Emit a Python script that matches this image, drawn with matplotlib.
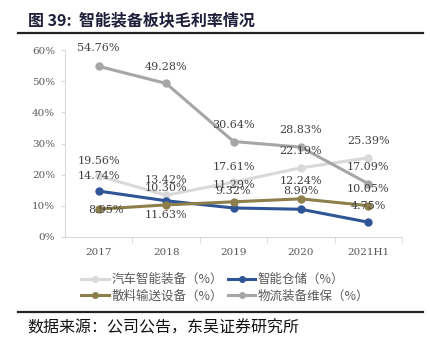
import matplotlib
matplotlib.use("Agg")
import matplotlib.pyplot as plt
from matplotlib.lines import Line2D

categories = ["2017", "2018", "2019", "2020", "2021H1"]
auto_equip = [19.56, 13.42, 17.61, 22.19, 25.39]
smart_storage = [14.74, 11.63, 9.32, 8.90, 4.75]
bulk_convey = [8.95, 10.30, 11.29, 12.24, 10.05]
logistics_maint = [54.76, 49.28, 30.64, 28.83, 17.09]
series_names = ["汽车智能装备（%）", "智能仓储（%）", "散料输送设备（%）", "物流装备维保（%）"]
yticks = [0, 10, 20, 30, 40, 50, 60]

colors = ["#d9d9d9", "#2f5597", "#8c7f4b", "#a6a6a6"]
series = [auto_equip, smart_storage, bulk_convey, logistics_maint]

# label offsets in points (dx, dy) per series per point
offsets = [
    [(0, 11), (0, 11), (0, 11), (0, 12), (0, 12)],
    [(0, 11), (0, -10), (0, 12), (0, 13), (0, 12)],
    [(5, -1), (0, 12), (0, 12), (0, 13), (0, 12)],
    [(0, 13), (0, 12), (0, 12), (0, 12), (0, 12)],
]

num_font = ["DejaVu Serif", "Noto Sans CJK SC"]
cjk = ["Noto Sans CJK SC", "DejaVu Sans"]

fig = plt.figure(figsize=(4.30, 3.44), dpi=100)
ax = fig.add_axes([65/430, 1-237/344, (402-65)/430, (237-50)/344])

x = list(range(len(categories)))
for vals, c in zip(series, colors):
    ax.plot(x, vals, color=c, lw=2.2, marker="o", ms=5, zorder=3)

for vals, offs in zip(series, offsets):
    for i, (v, o) in enumerate(zip(vals, offs)):
        ax.annotate(f"{v:.2f}%", (i, v), xytext=o, textcoords="offset points",
                    ha="center", va="center", fontsize=8, color="#404040",
                    family=num_font, zorder=4)

ax.set_xlim(-0.5, len(categories) - 0.5)
ax.set_ylim(0, 60)
ax.set_yticks(yticks)
ax.set_yticklabels([f"{t}%" for t in yticks], family=num_font, fontsize=7.5, color="#595959")
ax.set_xticks(x)
ax.set_xticklabels(categories, family=num_font, fontsize=7.5, color="#595959")
ax.set_xticks([i + 0.5 for i in range(len(categories))], minor=True)
ax.tick_params(axis="x", which="major", length=0, pad=8)
ax.tick_params(axis="x", which="minor", length=4, color="#d9d9d9", direction="out")
ax.tick_params(axis="y", length=3, color="#d9d9d9", pad=4)
for s in ["top", "right"]:
    ax.spines[s].set_visible(False)
for s in ["left", "bottom"]:
    ax.spines[s].set_color("#d9d9d9")

handles = [Line2D([0], [0], color=c, lw=2.2, marker="o", ms=4) for c in colors]
order = [0, 2, 1, 3]
leg = fig.legend([handles[i] for i in order], [series_names[i] for i in order],
                 ncol=2, loc="upper left",
                 bbox_to_anchor=(70/430, 1-262/344), frameon=False,
                 prop={"family": cjk, "size": 9}, handlelength=2.2,
                 handletextpad=0.2, columnspacing=0.4, labelspacing=0.25)
for t in leg.get_texts():
    t.set_color("#595959")

fig.text(28/430, 1-21/344, "图 39:  智能装备板块毛利率情况", family=cjk, fontsize=11.5,
         fontweight="bold", color="#1f1f3a", va="center", ha="left")
fig.add_artist(Line2D([18/430, 423/430], [1-33/344, 1-33/344], color="#222222", lw=1.6))
fig.add_artist(Line2D([18/430, 423/430], [1-312/344, 1-312/344], color="#222222", lw=1.6))
fig.text(27/430, 1-328/344, "数据来源：公司公告，东吴证券研究所", family=cjk, fontsize=11.5,
         color="#111111", va="center", ha="left")

fig.savefig("out.png", dpi=100)
